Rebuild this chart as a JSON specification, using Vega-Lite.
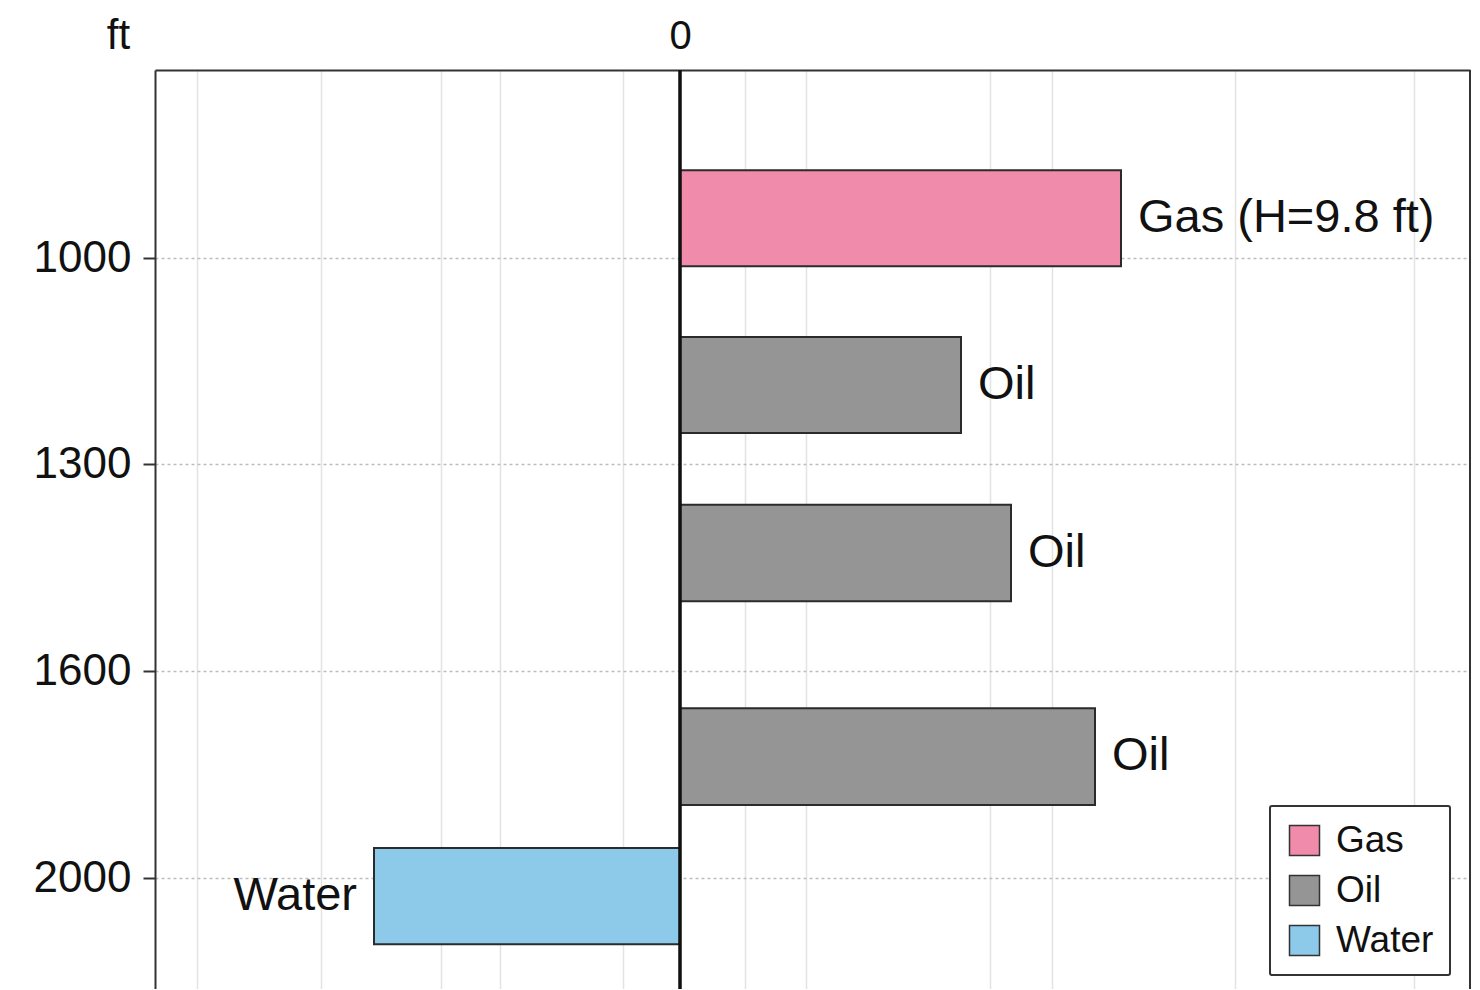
{
  "$schema": "https://vega.github.io/schema/vega-lite/v6.json",
  "width": 1315,
  "height": 919,
  "autosize": {"type": "none"},
  "padding": {"left": 155, "top": 70, "right": 10, "bottom": 0},
  "background": "white",
  "config": {"font": "Liberation Sans", "view": {"stroke": null}},
  "data": {
    "values": [
      {"phase": "Gas", "label": "Gas (H=9.8 ft)", "value": 441, "top": 872, "bottom": 1012},
      {"phase": "Oil", "label": "Oil", "value": 281, "top": 1115, "bottom": 1255},
      {"phase": "Oil", "label": "Oil", "value": 331, "top": 1359, "bottom": 1499},
      {"phase": "Oil", "label": "Oil", "value": 415, "top": 1672, "bottom": 1859},
      {"phase": "Water", "label": "Water", "value": -306, "top": 1942, "bottom": 2128}
    ]
  },
  "layer": [
    {
      "mark": {"type": "bar", "stroke": "#2b2b2b", "strokeWidth": 2, "opacity": 1},
      "encoding": {
        "x": {
          "field": "value",
          "type": "quantitative",
          "scale": {"domain": [-525, 790], "nice": false, "zero": false},
          "axis": {
            "orient": "top",
            "values": [-483, -359, -239, -180, -57, 0, 65, 126, 310, 372, 555, 734],
            "labelExpr": "datum.value == 0 ? '0' : ''",
            "labelOverlap": false,
            "ticks": false,
            "grid": true,
            "gridColor": "#e3e3e3",
            "gridWidth": 1.5,
            "domain": true,
            "domainColor": "#333333",
            "domainWidth": 2,
            "labelFontSize": 40,
            "labelColor": "#111111",
            "labelPadding": 14,
            "title": null
          }
        },
        "x2": {"datum": 0},
        "y": {
          "field": "top",
          "type": "quantitative",
          "scale": {
            "domain": [726, 1000, 1300, 1600, 2000, 2216],
            "range": [0, 188, 394, 601, 808, 920],
            "nice": false,
            "zero": false
          },
          "axis": {
            "orient": "left",
            "values": [1000, 1300, 1600, 2000],
            "format": "d",
            "grid": true,
            "gridDash": [3, 3],
            "gridColor": "#bdbdbd",
            "gridWidth": 1.5,
            "tickSize": 12,
            "tickColor": "#333333",
            "tickWidth": 2,
            "domain": true,
            "domainColor": "#333333",
            "domainWidth": 2,
            "labelFontSize": 44,
            "labelColor": "#111111",
            "labelPadding": 12,
            "title": "ft",
            "titleAngle": 0,
            "titleX": -37,
            "titleY": -35,
            "titleAlign": "center",
            "titleBaseline": "middle",
            "titleFontSize": 42,
            "titleFontWeight": "normal",
            "titleColor": "#111111"
          }
        },
        "y2": {"field": "bottom"},
        "color": {
          "field": "phase",
          "type": "nominal",
          "scale": {"domain": ["Gas", "Oil", "Water"], "range": ["#F08BAB", "#959595", "#8DC9E8"]},
          "legend": {
            "orient": "none",
            "legendX": 1115,
            "legendY": 736,
            "title": null,
            "symbolType": "square",
            "symbolSize": 900,
            "symbolStrokeColor": "#333333",
            "symbolStrokeWidth": 1.5,
            "symbolOpacity": 1,
            "labelFontSize": 37,
            "labelColor": "#111111",
            "labelOffset": 13,
            "rowPadding": 12,
            "padding": 16,
            "strokeColor": "#333333",
            "fillColor": "white",
            "cornerRadius": 2,
            "encode": {"legend": {"update": {"strokeWidth": {"value": 2}}}}
          }
        }
      }
    },
    {
      "transform": [{"filter": "datum.value > 0"}],
      "mark": {"type": "text", "align": "left", "baseline": "middle", "dx": 17, "dy": 48, "fontSize": 47, "color": "#111111"},
      "encoding": {
        "x": {"field": "value", "type": "quantitative"},
        "y": {"field": "top", "type": "quantitative"},
        "text": {"field": "label"}
      }
    },
    {
      "transform": [{"filter": "datum.value < 0"}],
      "mark": {"type": "text", "align": "right", "baseline": "middle", "dx": -17, "dy": 48, "fontSize": 47, "color": "#111111"},
      "encoding": {
        "x": {"field": "value", "type": "quantitative"},
        "y": {"field": "top", "type": "quantitative"},
        "text": {"field": "label"}
      }
    },
    {
      "mark": {"type": "rule", "color": "#111111", "strokeWidth": 2.5},
      "encoding": {"x": {"datum": 0}}
    },
    {
      "mark": {"type": "rule", "color": "#333333", "strokeWidth": 2},
      "encoding": {"x": {"datum": 790}}
    }
  ]
}
